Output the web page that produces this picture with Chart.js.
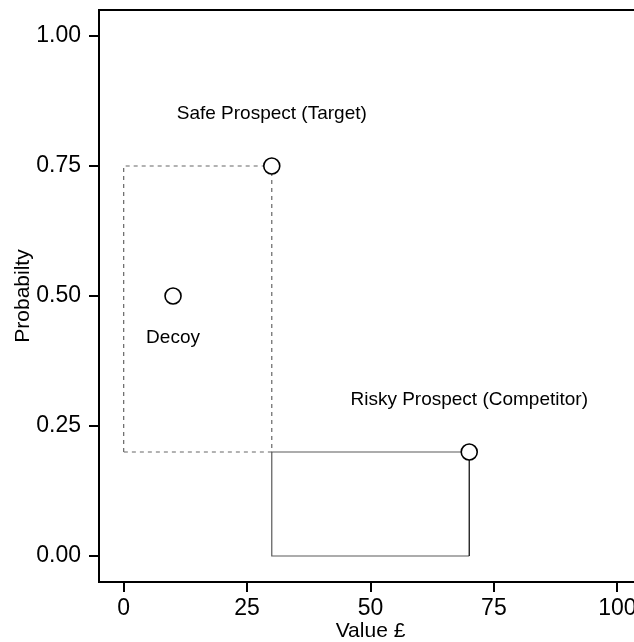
<!DOCTYPE html>
<html>
<head>
<meta charset="utf-8">
<script src="https://cdn.jsdelivr.net/npm/chart.js@4"></script>
<style>
  body { margin: 0; overflow: hidden; background: #fff; }
  canvas { display: block; }
</style>
</head>
<body>
<canvas id="graphique-leurre" width="660" height="642"></canvas>
<script>
// Options (valeur en £, probabilité)
const noms = ["Safe Prospect (Target)", "Decoy", "Risky Prospect (Competitor)"];
const valeurs = [30, 10, 70];
const probabilites = [0.75, 0.5, 0.2];

// Rectangles de dominance
const rectPointilleX = [0, 0, 30, 30, 0];
const rectPointilleY = [0.2, 0.75, 0.75, 0.2, 0.2];
const rectPleinX = [70, 30, 30, 70];
const rectPleinY = [0.2, 0.2, 0, 0];
const coteNoirX = [70, 70];
const coteNoirY = [0, 0.2];

// Étiquettes (coordonnées dans les unités des données)
const etiquetteX = [30, 10, 70];
const etiquetteY = [0.85, 0.42, 0.3];

const ticksX = [0, 25, 50, 75, 100];
const ticksY = [0, 0.25, 0.5, 0.75, 1];

function points(xs, ys) {
  return xs.map((x, i) => ({ x: x, y: ys[i] }));
}

// Textes des options + bord du haut
const pluginEtiquettes = {
  id: "etiquettes",
  afterDatasetsDraw(chart) {
    const { ctx, chartArea, scales } = chart;
    ctx.save();
    ctx.strokeStyle = "#000";
    ctx.lineWidth = 2;
    ctx.beginPath();
    ctx.moveTo(chartArea.left - 1, chartArea.top);
    ctx.lineTo(chartArea.right, chartArea.top);
    ctx.stroke();

    ctx.fillStyle = "#000";
    ctx.font = "19px 'Liberation Sans', Arial, sans-serif";
    ctx.textAlign = "center";
    ctx.textBaseline = "middle";
    for (let i = 0; i < noms.length; i++) {
      ctx.fillText(noms[i], scales.x.getPixelForValue(etiquetteX[i]), scales.y.getPixelForValue(etiquetteY[i]));
    }
    ctx.restore();
  }
};

const policeTicks = { family: "'Liberation Sans', Arial, sans-serif", size: 23 };
const policeTitre = { family: "'Liberation Sans', Arial, sans-serif", size: 21, lineHeight: 1 };

const config = {
  type: "scatter",
  data: {
    datasets: [
      {
        label: "options",
        data: points(valeurs, probabilites),
        pointRadius: 8,
        pointHoverRadius: 8,
        pointBackgroundColor: "#fff",
        pointBorderColor: "#000",
        pointBorderWidth: 1.6,
      },
      {
        label: "cote",
        data: points(coteNoirX, coteNoirY),
        showLine: true,
        pointRadius: 0,
        borderColor: "#000",
        borderWidth: 1.2,
      },
      {
        label: "plein",
        data: points(rectPleinX, rectPleinY),
        showLine: true,
        pointRadius: 0,
        borderColor: "#5a5a5a",
        borderWidth: 1.2,
      },
      {
        label: "pointille",
        data: points(rectPointilleX, rectPointilleY),
        showLine: true,
        pointRadius: 0,
        borderColor: "#666",
        borderWidth: 1.2,
        borderDash: [4, 4],
      },
    ],
  },
  options: {
    responsive: false,
    animation: false,
    devicePixelRatio: 1,
    layout: { padding: { left: 0, top: 10, right: 18, bottom: 0 } },
    plugins: { legend: { display: false }, tooltip: { enabled: false } },
    scales: {
      x: {
        type: "linear",
        min: -5,
        max: 105,
        afterBuildTicks: (s) => { s.ticks = ticksX.map(v => ({ value: v })); },
        afterFit: (s) => { s.height = 60; s.paddingLeft = 0; s.paddingRight = 0; },
        ticks: { color: "#000", font: policeTicks, padding: 3, maxRotation: 0, callback: (v) => String(v) },
        grid: { display: true, drawOnChartArea: false, drawTicks: true, tickLength: 10, color: "#000", lineWidth: 2 },
        border: { display: true, color: "#000", width: 2 },
        title: { display: true, text: "Value £", color: "#000", font: policeTitre, padding: 0 },
      },
      y: {
        type: "linear",
        min: -0.05,
        max: 1.05,
        afterBuildTicks: (s) => { s.ticks = ticksY.map(v => ({ value: v })); },
        afterFit: (s) => { s.width = 99; s.paddingTop = 0; s.paddingBottom = 0; },
        ticks: { color: "#000", font: policeTicks, padding: 8, callback: (v) => Number(v).toFixed(2) },
        grid: { display: true, drawOnChartArea: false, drawTicks: true, tickLength: 10, color: "#000", lineWidth: 2 },
        border: { display: true, color: "#000", width: 2 },
        title: { display: true, text: "Probabilty", color: "#000", font: policeTitre, padding: { top: 13, bottom: 0 } },
      },
    },
  },
  plugins: [pluginEtiquettes],
};

new Chart(document.querySelector("#graphique-leurre"), config);
</script>
</body>
</html>
